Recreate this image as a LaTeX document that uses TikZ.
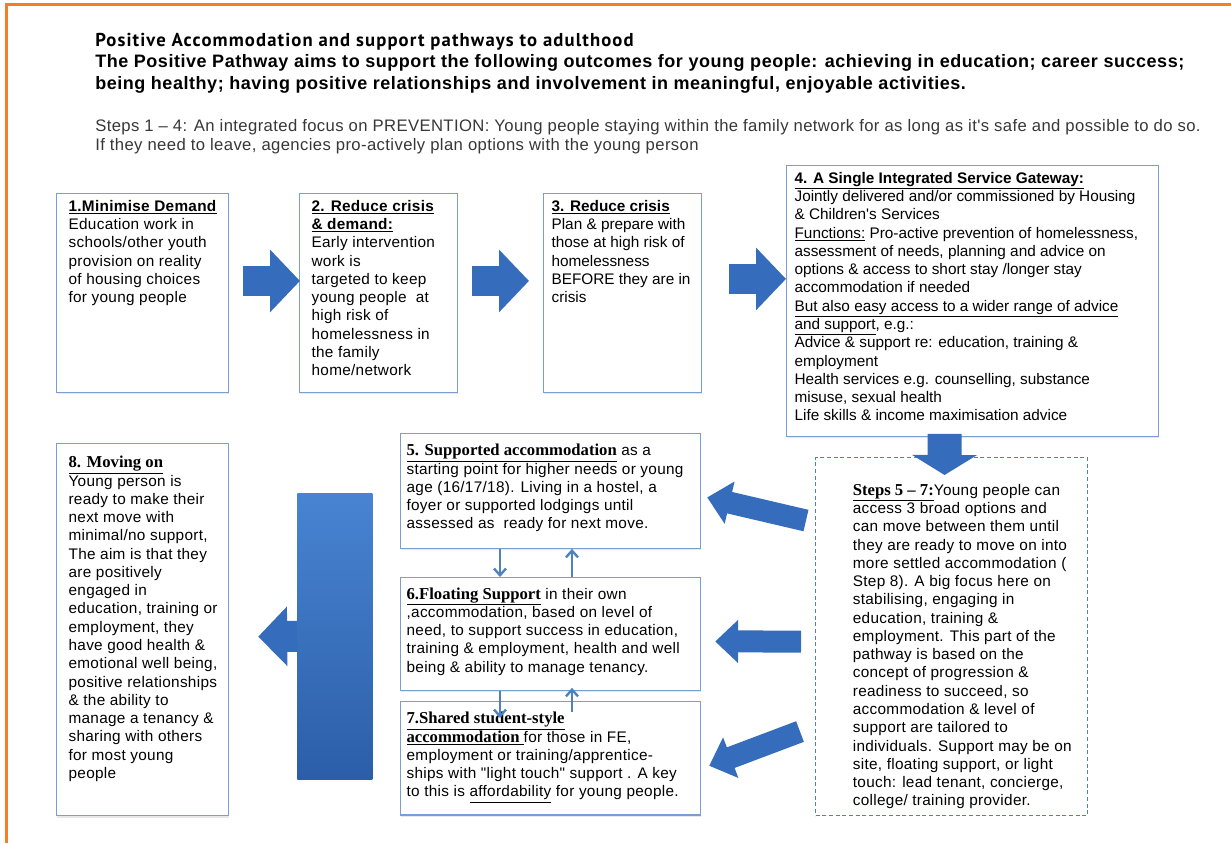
\documentclass[tikz,border=0pt]{standalone}
\usepackage{fontspec}
\setmainfont{Liberation Sans}[Ligatures=TeXOff]
\newfontfamily\spacedfont{Liberation Sans}[Ligatures=TeXOff, LetterSpace=2]
\newfontfamily\titlerm{Liberation Serif}[Ligatures=TeXOff]
\newfontfamily\gillfont{PT Sans}[LetterSpace=6]
\newfontfamily\aimsfont{Liberation Sans}[LetterSpace=3]
\newfontfamily\prevfont{Liberation Sans}[Ligatures=TeXOff, LetterSpace=2.3]
\usetikzlibrary{positioning,arrows.meta,calc,shadows}
\definecolor{framorange}{RGB}{247,124,40}
\definecolor{edgeblue}{RGB}{120,158,212}
\definecolor{linkblue}{RGB}{79,129,189}
\definecolor{arrowblue}{RGB}{54,108,188}
\definecolor{arrowtop}{RGB}{72,132,210}
\definecolor{arrowbot}{RGB}{44,94,168}
\definecolor{textgray}{RGB}{55,55,55}
\newcommand{\bodyfont}{\fontsize{11.5}{13.7}\selectfont}
\newcommand{\ttl}[1]{\underline{\textbf{#1}}}
\newcommand{\sttl}[1]{\underline{{\titlerm\bfseries\fontsize{12.5}{13.7}\selectfont #1}}}
\newcommand{\stagebody}[3]{\parbox[t][#2][t]{#1}{\raggedright #3}}
\tikzset{
  stage/.style  ={rectangle, draw=edgeblue, line width=0.9pt, fill=white, anchor=north west,
                  inner xsep=6pt, inner ysep=5pt, font=\spacedfont\bodyfont,
                  drop shadow={shadow xshift=0.6pt, shadow yshift=-1.6pt, opacity=0.18}},
  wide/.style   ={inner xsep=4.5pt},
  plain/.style  ={font=\normalfont\bodyfont},
  stepsbox/.style={rectangle, draw=linkblue, line width=0.8pt, dash pattern=on 3pt off 2pt,
                  fill=white, anchor=north west, inner xsep=6pt, inner ysep=5pt, font=\spacedfont\bodyfont},
  bar/.style    ={rectangle, anchor=north west, inner sep=0pt, top color=arrowtop, bottom color=arrowbot},
  bigarr/.style ={line width=22.5pt, draw=arrowblue, -{Triangle[length=22.5pt, width=45.75pt]}},
  sidearr/.style={line width=16.5pt, draw=arrowblue, -{Triangle[length=17.25pt, width=31.5pt]}},
  downarr/.style={line width=25.5pt, draw=arrowblue, -{Triangle[length=15pt, width=48pt]}},
  movearr/.style={line width=23.25pt, draw=arrowblue, -{Triangle[length=21.75pt, width=43.5pt]}},
  linkarr/.style={line width=1.8pt, draw=linkblue, -{Straight Barb[length=5pt, width=9pt]}},
}
\begin{document}
\begin{tikzpicture}[x=0.75pt, y=-0.75pt]
\useasboundingbox (0,0) rectangle (1231,843);
\draw[framorange, line width=1.6pt] (6.5,843) -- (6.5,4.5) -- (1231,4.5);

% headings
\node[anchor=base west, inner sep=0pt, font=\gillfont\bfseries\fontsize{14}{15}\selectfont] (head) at (95,46)
  {Positive Accommodation and support pathways to adulthood};
\node[anchor=base west, inner sep=0pt, font=\aimsfont\bfseries\fontsize{13.5}{16}\selectfont] (aims1) at (95,67)
  {The Positive Pathway aims to support the following outcomes for young people: achieving in education; career success;};
\node[anchor=base west, inner sep=0pt, font=\aimsfont\bfseries\fontsize{13.5}{16}\selectfont] (aims2) at (95,89)
  {being healthy; having positive relationships and involvement in meaningful, enjoyable activities.};
\node[anchor=base west, inner sep=0pt, font=\prevfont\fontsize{12.5}{14}\selectfont, text=textgray] (prev1) at (95,131)
  {Steps 1 – 4: An integrated focus on PREVENTION: Young people staying within the family network for as long as it's safe and possible to do so.};
\node[anchor=base west, inner sep=0pt, font=\prevfont\fontsize{12.5}{14}\selectfont, text=textgray] (prev2) at (95,150)
  {If they need to leave, agencies pro-actively plan options with the young person};

% steps 1-4
\node[stage] (s1) at (56,193) {\stagebody{117pt}{139pt}{\leftskip=3pt \ttl{1.Minimise Demand}\\ Education work in\\ schools/other youth\\ provision on reality\\ of housing choices\\ for young people}};
\node[stage] (s2) at (299,193) {\stagebody{106.5pt}{139pt}{\leftskip=3pt \ttl{2. Reduce crisis}\\ \ttl{\& demand:}\\ Early intervention\\ work is\\ targeted to keep\\ young people\ \ at\\ high risk of\\ homelessness in\\ the family\\ home/network}};
\node[stage, plain] (s3) at (543,193) {\stagebody{106.5pt}{139pt}{\ttl{3. Reduce crisis}\\ Plan \& prepare with\\ those at high risk of\\ homelessness\\ BEFORE they are in\\ crisis}};
\node[stage, plain] (s4) at (786,165) {\stagebody{267pt}{193pt}{\ttl{4. A Single Integrated Service Gateway:}\\ Jointly delivered and/or commissioned by Housing\\ \& Children's Services\\ \underline{Functions:} Pro-active prevention of homelessness,\\ assessment of needs, planning and advice on\\ options \& access to short stay /longer stay\\ accommodation if needed\\ \underline{But also easy access to a wider range of advice}\\ \underline{and support}, e.g.:\\ Advice \& support re: education, training \&\\ employment\\ Health services e.g. counselling, substance\\ misuse, sexual health\\ Life skills \& income maximisation advice}};

% steps 5-8
\node[stage, wide] (s5) at (400,433) {\stagebody{216pt}{76pt}{\vspace*{3pt}\sttl{5. Supported accommodation} as a\\ starting point for higher needs or young\\ age (16/17/18). Living in a hostel, a\\ foyer or supported lodgings until\\ assessed as\ \ ready for next move.}};
\node[stage, wide] (s6) at (400,577) {\stagebody{216pt}{74.5pt}{\vspace*{2.5pt}\sttl{6.Floating Support} in their own\\ ,accommodation, based on level of\\ need, to support success in education,\\ training \& employment, health and well\\ being \& ability to manage tenancy.}};
\node[stage, wide] (s7) at (400,701) {\stagebody{216pt}{75pt}{\vspace*{3pt}\sttl{7.Shared student-style}\\ \sttl{accommodation }for those in FE,\\ employment or training/apprentice-\\ ships with "light touch" support . A key\\ to this is \underline{affordability} for young people.}};
\node[stage] (s8) at (56,443) {\stagebody{117pt}{269pt}{\vspace*{4.5pt}\leftskip=3pt \sttl{8. Moving on}\\ Young person is\\ ready to make their\\ next move with\\ minimal/no support,\\ The aim is that they\\ are positively\\ engaged in\\ education, training or\\ employment, they\\ have good health \&\\ emotional well being,\\ positive relationships\\ \& the ability to\\ manage a tenancy \&\\ sharing with others\\ for most young\\ people}};
\node[stepsbox] (steps) at (815,457) {\stagebody{192pt}{258.5pt}{\vspace*{15pt}\leftskip=22pt \sttl{Steps 5 – 7:}Young people can\\ access 3 broad options and\\ can move between them until\\ they are ready to move on into\\ more settled accommodation (\\ Step 8). A big focus here on\\ stabilising, engaging in\\ education, training \&\\ employment. This part of the\\ pathway is based on the\\ concept of progression \&\\ readiness to succeed, so\\ accommodation \& level of\\ support are tailored to\\ individuals. Support may be on\\ site, floating support, or light\\ touch: lead tenant, concierge,\\ college/ training provider.}};
\node[bar, minimum width=56.25pt, minimum height=214.5pt] (bar) at (297,493) {};

% block arrows
\draw[bigarr] ($(s1.east)+(14,-12)$) -- ($(s2.west)+(1,-12)$);
\draw[bigarr] ($(s2.east)+(14,-12)$) -- ($(s3.west)+(-14,-12)$);
\draw[bigarr] ($(s3.east)+(27,-14)$) -- ($(s3.east -| s4.west)+(0,-14)$);
\draw[downarr] ($(s4.south)+(-28,-3)$) -- ($(steps.north)+(-7,18)$);
\draw[sidearr] ($(steps.west)+(-9,-116)$) -- ($(s5.east)+(6,6.5)$);
\draw[sidearr] ($(steps.west)+(-14,5)$) -- ($(s6.east)+(14,7.5)$);
\draw[sidearr] ($(steps.west)+(-15,95)$) -- ($(s7.east)+(8,7.5)$);
\draw[movearr] (bar.west) -- ($(s8.east)+(29,7)$);

% moves between options
\draw[linkarr] ($(s5.south west)+(100,0)$) -- ($(s6.north west)+(100,0)$);
\draw[linkarr] ($(s6.north west)+(172,0)$) -- ($(s5.south west)+(172,0)$);
\draw[linkarr] ($(s6.south west)+(100,0)$) -- ($(s7.north west)+(100,17)$);
\draw[linkarr] ($(s7.north west)+(172,11)$) -- ($(s6.south west)+(172,-3)$);
\end{tikzpicture}
\end{document}
